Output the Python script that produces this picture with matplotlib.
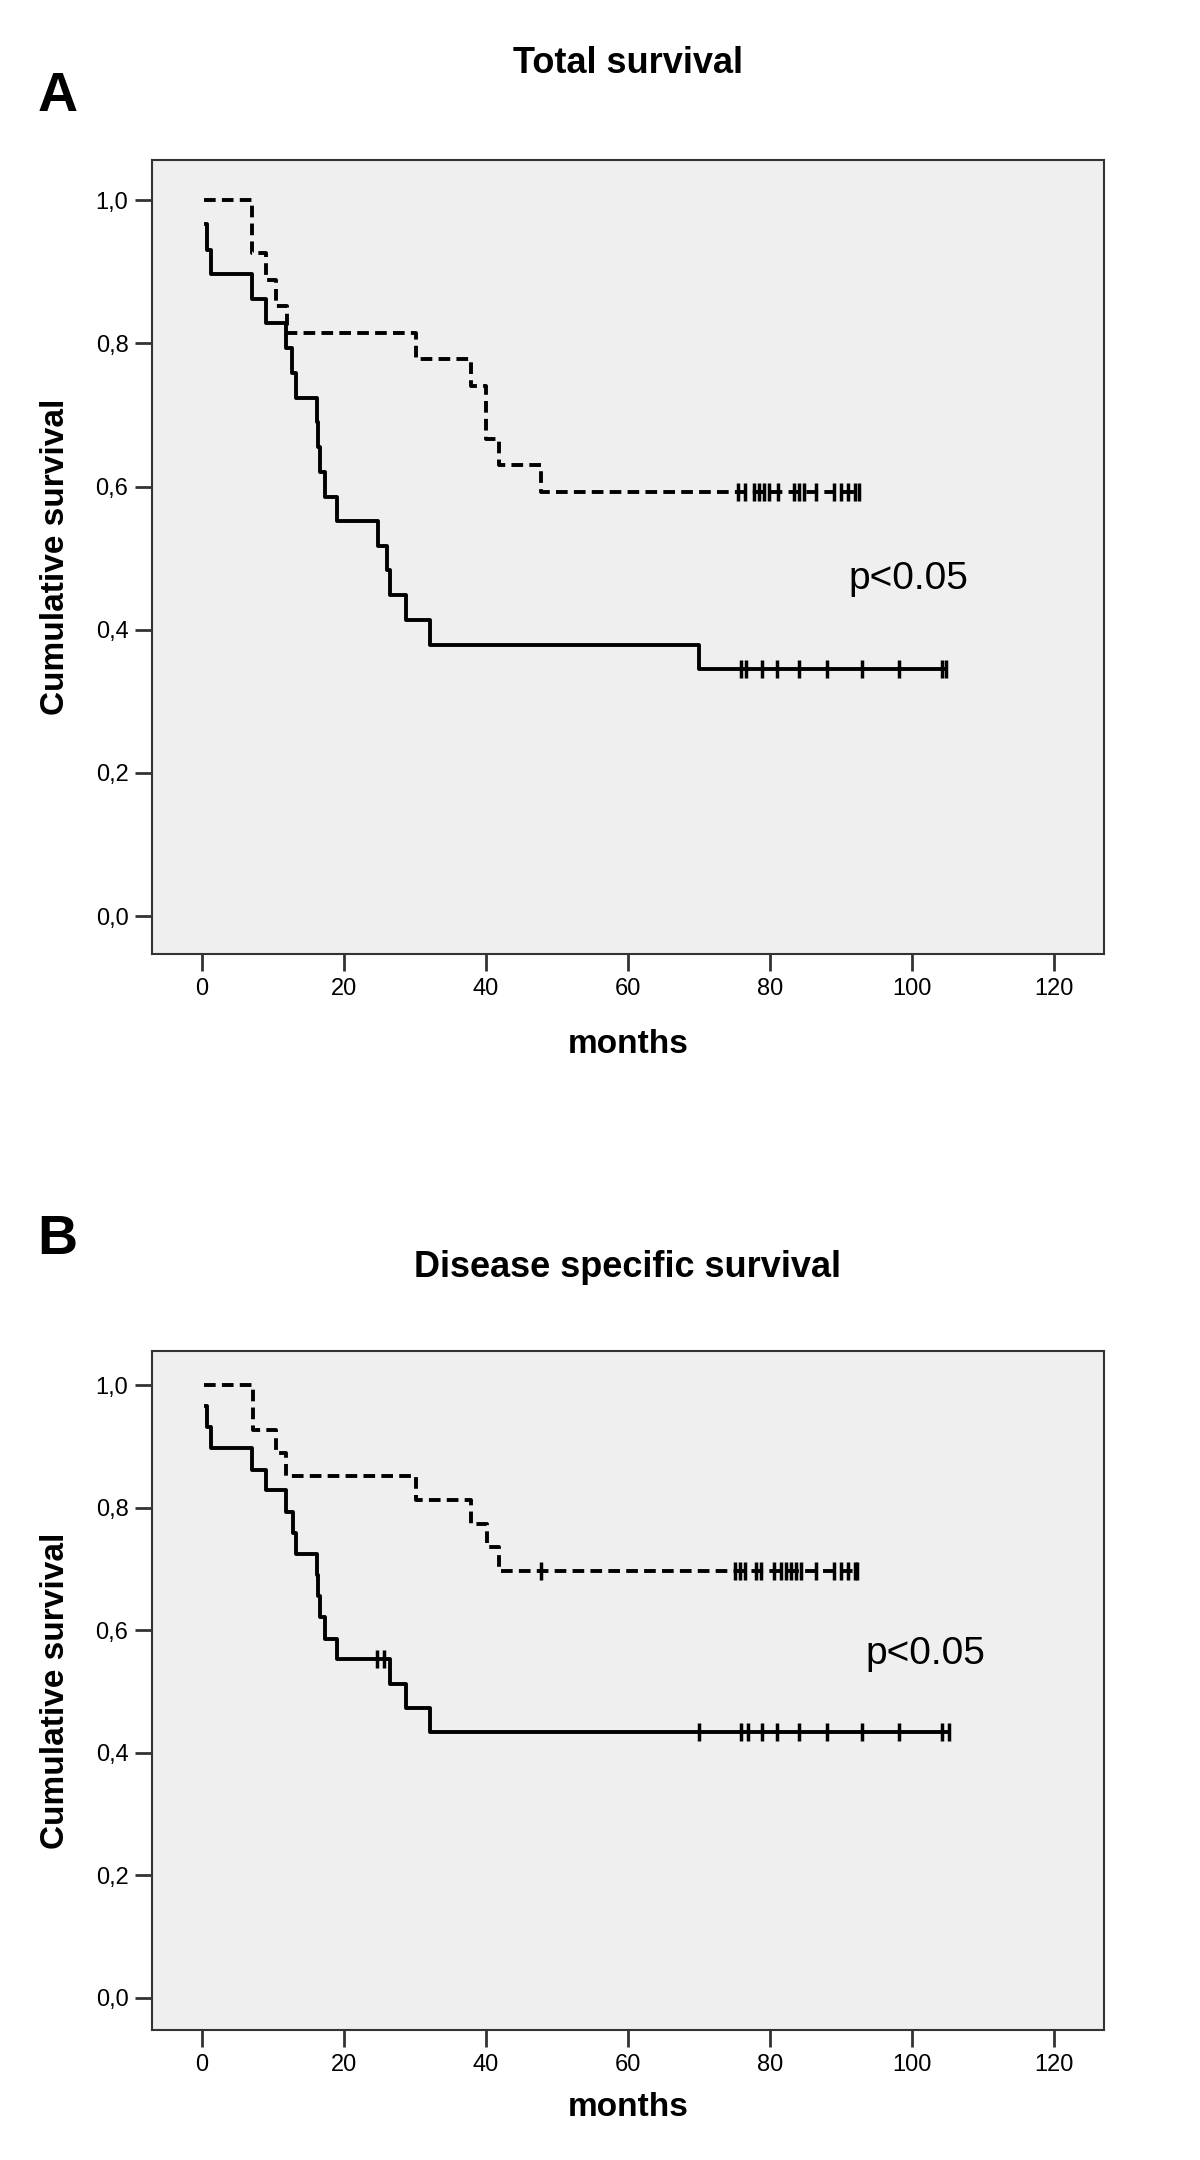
import numpy as np
from matplotlib import pyplot as plt
from matplotlib.ticker import FuncFormatter

# Panel A - total survival (times in months, survival after each step)
a_solid_t = [0.6, 0.8, 1.3, 7.1, 9.1, 11.8, 12.7, 13.2, 16.2, 16.4, 16.6, 17.4, 19.0,
             24.8, 26.1, 26.5, 28.7, 32.1, 70.0, 104.8]
a_solid_s = [0.966, 0.931, 0.897, 0.862, 0.828, 0.793, 0.759, 0.724, 0.690, 0.655, 0.621,
             0.586, 0.552, 0.517, 0.483, 0.448, 0.414, 0.379, 0.345, 0.345]
a_solid_cens = [75.9, 76.6, 78.8, 81.0, 84.0, 88.0, 93.0, 98.1, 104.2, 104.8]

a_dash_t = [0.3, 7.1, 9.0, 10.4, 12.0, 30.1, 37.9, 40.0, 41.9, 47.8, 92.5]
a_dash_s = [1.0, 0.926, 0.889, 0.852, 0.815, 0.778, 0.741, 0.667, 0.630, 0.593, 0.593]
a_dash_cens = [75.5, 76.4, 77.8, 78.5, 79.2, 79.9, 81.1, 83.4, 84.1, 84.8, 86.5,
               89.0, 90.0, 90.9, 91.9, 92.5]

# Panel B - disease specific survival
b_solid_t = [0.6, 0.8, 1.3, 7.1, 9.1, 11.8, 12.8, 13.3, 16.2, 16.4, 16.6, 17.3, 19.0,
             26.5, 28.8, 32.1, 105.2]
b_solid_s = [0.966, 0.931, 0.897, 0.862, 0.828, 0.793, 0.759, 0.724, 0.690, 0.655, 0.621,
             0.586, 0.552, 0.512, 0.473, 0.434, 0.434]
b_solid_cens = [24.7, 25.6, 70.0, 75.9, 76.9, 78.8, 81.0, 84.0, 88.0, 93.0, 98.1, 104.2, 105.2]

b_dash_t = [0.3, 7.2, 10.4, 11.9, 30.1, 37.9, 40.1, 41.9, 92.3]
b_dash_s = [1.0, 0.926, 0.889, 0.852, 0.813, 0.774, 0.735, 0.697, 0.697]
b_dash_cens = [47.8, 75.0, 75.7, 76.4, 78.0, 78.7, 80.6, 81.6, 82.3, 83.0, 83.7, 84.4,
               86.5, 89.0, 90.0, 90.9, 91.9, 92.3]

x_ticks = [0, 20, 40, 60, 80, 100, 120]
y_ticks = [0.0, 0.2, 0.4, 0.6, 0.8, 1.0]

plt.rcParams['font.family'] = ['Liberation Sans', 'DejaVu Sans']


def surv_at(times, surv, t):
    i = np.searchsorted(times, t, side='right') - 1
    return surv[max(i, 0)]


def km(ax, times, surv, cens, dashed):
    ls = (0, (3, 1.6)) if dashed else '-'
    ax.plot(times, surv, drawstyle='steps-post', color='black', lw=2.8, linestyle=ls)
    cy = [surv_at(times, surv, c) for c in cens]
    ax.plot(cens, cy, linestyle='none', marker='|', color='black', ms=13, mew=2.5)


def panel(ax, title_y, letter, letter_y, title, solid, dash, p_xy, lab_y):
    ax.set_facecolor('#efefef')
    km(ax, *dash, dashed=True)
    km(ax, *solid, dashed=False)
    ax.set_xlim(-7, 127)
    ax.set_ylim(-0.053, 1.056)
    ax.set_xticks(x_ticks)
    ax.set_yticks(y_ticks)
    ax.yaxis.set_major_formatter(FuncFormatter(lambda v, p: f"{v:.1f}".replace('.', ',')))
    ax.tick_params(direction='out', length=12, width=2, labelsize=17, color='#333333', pad=5)
    for s in ax.spines.values():
        s.set_color('#333333')
        s.set_linewidth(1.5)
    ax.set_xlabel("months", fontsize=24, fontweight='bold')
    ax.set_ylabel("Cumulative survival", fontsize=24, fontweight='bold')
    ax.xaxis.set_label_coords(0.5, lab_y)
    ax.yaxis.set_label_coords(-0.085, 0.5)
    ax.text(p_xy[0], p_xy[1], "p<0.05", fontsize=28, ha='center', va='center')
    fig.text(0.523, title_y, title, fontsize=26, fontweight='bold', ha='center', va='center')
    fig.text(0.048, letter_y, letter, fontsize=40, fontweight='bold', ha='center', va='center')


fig = plt.figure(figsize=(12, 21.6), dpi=100)
ax1 = fig.add_axes([0.1267, 0.5583, 0.7933, 0.3676])
ax2 = fig.add_axes([0.1267, 0.0602, 0.7933, 0.3144])

panel(ax1, 0.9708, "A", 0.955, "Total survival",
      (a_solid_t, a_solid_s, a_solid_cens), (a_dash_t, a_dash_s, a_dash_cens),
      (99.4, 0.471), -0.094)
panel(ax2, 0.413, "B", 0.426, "Disease specific survival",
      (b_solid_t, b_solid_s, b_solid_cens), (b_dash_t, b_dash_s, b_dash_cens),
      (101.8, 0.561), -0.092)

fig.savefig("out.png", dpi=100, facecolor='white')
plt.close(fig)
